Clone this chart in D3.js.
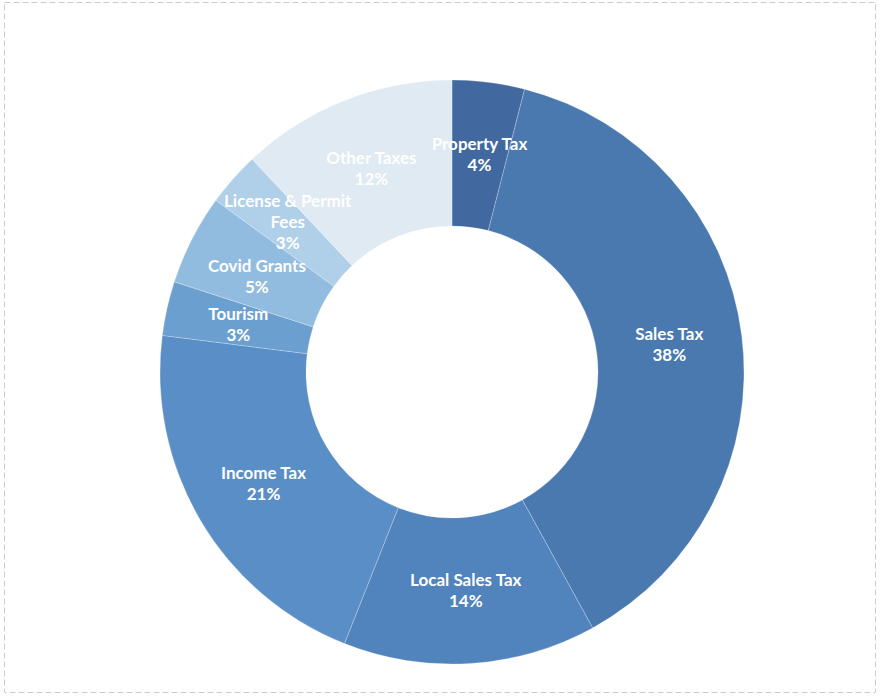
<!DOCTYPE html>
<html>
<head>
<meta charset="utf-8">
<script src="https://cdn.jsdelivr.net/npm/d3@7"></script>
<style>
  html, body { margin: 0; padding: 0; background: #ffffff; }
  svg { display: block; }
</style>
</head>
<body>
<svg id="chart" width="882" height="698"></svg>
<script>
// Revenue sources (percent of total)
const categories = ["Property Tax", "Sales Tax", "Local Sales Tax", "Income Tax",
                    "Tourism", "Covid Grants", "License & Permit Fees", "Other Taxes"];
const values = [4, 38, 14, 21, 3, 5, 3, 12];
// Label lines as wrapped inside the slices
const labelLines = [["Property Tax"], ["Sales Tax"], ["Local Sales Tax"], ["Income Tax"],
                    ["Tourism"], ["Covid Grants"], ["License & Permit", "Fees"], ["Other Taxes"]];
const colors = ["#41699f", "#4a79b0", "#5183bc", "#5a8ec6",
                "#6b9fd0", "#92bcdf", "#b0cfe8", "#e0eaf3"];

const svg = d3.select("#chart");

// faint frame of the chart area
svg.append("rect")
  .attr("x", 4.5).attr("y", 2.5)
  .attr("width", 871).attr("height", 690)
  .attr("fill", "none")
  .attr("stroke", "#c8ccd0")
  .attr("stroke-width", 1)
  .attr("stroke-dasharray", "6,3");

const cx = 452, cy = 372;
const outerR = 292, innerR = 146;

const data = categories.map((c, i) => ({ name: c, value: values[i], lines: labelLines[i], color: colors[i] }));

const pie = d3.pie().sort(null).value(d => d.value);
const arc = d3.arc().innerRadius(innerR).outerRadius(outerR);
const labelArc = d3.arc().innerRadius((innerR + outerR) / 2).outerRadius((innerR + outerR) / 2);

const g = svg.append("g").attr("transform", `translate(${cx},${cy})`);

const arcs = pie(data);

g.selectAll("path.slice")
  .data(arcs)
  .enter().append("path")
  .attr("class", "slice")
  .attr("d", arc)
  .attr("fill", d => d.data.color)
  .attr("stroke", "rgba(255,255,255,0.3)")
  .attr("stroke-width", 0.8);

// small vertical nudges so the crowded labels on the left don't collide
const nudge = { "Covid Grants": 4, "License & Permit Fees": -5 };

const lineH = 21;
const labels = g.selectAll("text.lbl")
  .data(arcs)
  .enter().append("text")
  .attr("class", "lbl")
  .attr("text-anchor", "middle")
  .attr("fill", "#ffffff")
  .attr("font-family", "Lato, 'Open Sans', sans-serif")
  .attr("font-weight", "bold")
  .attr("font-size", "17px")
  .attr("transform", d => {
    const [x, y] = labelArc.centroid(d);
    return `translate(${x},${y + (nudge[d.data.name] || 0)})`;
  });

labels.each(function(d) {
  const lines = d.data.lines.concat([d.data.value + "%"]);
  const n = lines.length;
  const t = d3.select(this);
  lines.forEach((ln, i) => {
    t.append("tspan")
      .attr("x", 0)
      .attr("y", (i - (n - 1) / 2) * lineH)
      .attr("dy", "0.35em")
      .text(ln);
  });
});
</script>
</body>
</html>
